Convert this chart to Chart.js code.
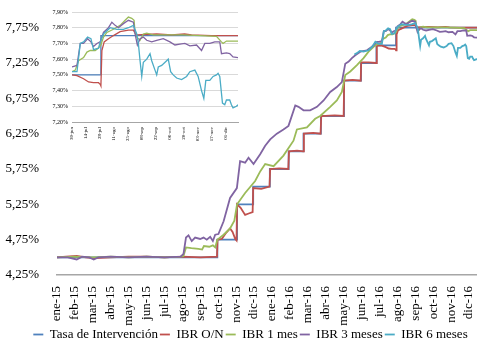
<!DOCTYPE html>
<html>
<head>
<meta charset="utf-8">
<script src="https://cdn.jsdelivr.net/npm/chart.js@4"></script>
<style>
  html, body { margin: 0; padding: 0; background: #fff; }
  #wrap { position: relative; width: 477px; height: 343px; }
  #main, #inset { position: absolute; left: 0; top: 0; }
</style>
</head>
<body>
<div id="wrap">
  <canvas id="main" width="477" height="343"></canvas>
  <canvas id="inset" width="240" height="150"></canvas>
</div>
<script>
'use strict';

// Series names
const seriesNames = ['Tasa de Intervención', 'IBR O/N', 'IBR 1 mes', 'IBR 3 meses', 'IBR 6 meses'];
const seriesColors = ['#4F81BD', '#C0504D', '#9BBB59', '#8064A2', '#4BACC6'];

// Tick labels
const monthLabels = [
    'ene-15', 'feb-15', 'mar-15', 'abr-15', 'may-15', 'jun-15', 'jul-15', 'ago-15',
    'sep-15', 'oct-15', 'nov-15', 'dic-15', 'ene-16', 'feb-16', 'mar-16', 'abr-16',
    'may-16', 'jun-16', 'jul-16', 'ago-16', 'sep-16', 'oct-16', 'nov-16', 'dic-16'
];
const mainYTicks = [4.25, 4.75, 5.25, 5.75, 6.25, 6.75, 7.25, 7.75];
const insetLabels = ['30-jun', '14-jul', '28-jul', '11-ago', '25-ago', '08-sep',
                     '22-sep', '06-oct', '20-oct', '03-nov', '17-nov', '01-dic'];
const insetTickStep = 14;   // days between inset labels
const insetYTicks = [7.2, 7.3, 7.4, 7.5, 7.6, 7.7, 7.8, 7.9];

// Main chart, ene-15 .. 30-jun-16: [month index, %]
const tasaMain = [
    [0, 4.5], [8.95, 4.5], [8.95, 4.75], [10.05, 4.75], [10.05, 5.25], [10.95, 5.25],
    [10.95, 5.5], [11.88, 5.5], [11.88, 5.75], [12.93, 5.75], [12.93, 6.0], [13.76, 6.0],
    [13.76, 6.25], [14.73, 6.25], [14.73, 6.5], [16.02, 6.5], [16.02, 7.0], [16.97, 7.0],
    [16.97, 7.25], [17.83, 7.25], [17.83, 7.5]
];
const onMain = [
    [0, 4.5], [0.5, 4.51], [1.1, 4.52], [1.6, 4.5], [2.1, 4.49], [3, 4.5], [4, 4.51],
    [5, 4.51], [6, 4.5], [7, 4.51], [8, 4.5], [8.93, 4.51], [8.96, 4.75], [9.2, 4.76],
    [9.45, 4.85], [9.66, 4.91], [9.8, 4.86], [9.95, 4.76], [10.02, 4.74], [10.05, 5.25],
    [10.25, 5.2], [10.5, 5.1], [10.7, 5.12], [10.92, 5.14], [10.95, 5.48], [11.4, 5.47],
    [11.86, 5.5], [11.9, 5.75], [12.4, 5.76], [12.91, 5.75], [12.95, 6.0], [13.4, 6.01],
    [13.74, 6.0], [13.78, 6.25], [14.3, 6.26], [14.71, 6.25], [14.75, 6.5], [15.5, 6.51],
    [16.0, 6.5], [16.03, 7.0], [16.5, 7.01], [16.95, 7.0], [16.98, 7.26], [17.4, 7.26],
    [17.81, 7.25], [17.85, 7.49]
];
const m1Main = [
    [0, 4.5], [1, 4.51], [2, 4.5], [3, 4.51], [4, 4.5], [5, 4.51], [6, 4.5], [6.9, 4.51],
    [7.06, 4.52], [7.2, 4.64], [7.5, 4.63], [7.9, 4.62], [8.1, 4.61], [8.2, 4.66],
    [8.5, 4.65], [8.7, 4.67], [8.83, 4.64], [8.95, 4.75], [9.3, 4.82], [9.66, 4.91],
    [9.9, 5.02], [10.05, 5.25], [10.5, 5.41], [11.06, 5.58], [11.35, 5.72], [11.62, 5.82],
    [12.09, 5.79], [12.64, 5.94], [13.2, 6.15], [13.39, 6.31], [13.95, 6.34], [14.41, 6.46],
    [14.69, 6.5], [15.25, 6.63], [15.62, 6.72], [15.9, 6.84], [16.09, 7.08], [16.37, 7.13],
    [16.74, 7.22], [17.11, 7.32], [17.39, 7.41], [17.67, 7.48], [17.9, 7.52]
];
const m3Main = [
    [0, 4.5], [0.6, 4.5], [1.1, 4.47], [1.4, 4.51], [1.8, 4.5], [2.05, 4.47], [2.3, 4.5],
    [3, 4.51], [4, 4.5], [5, 4.51], [6, 4.5], [6.9, 4.51], [7.06, 4.55], [7.2, 4.78],
    [7.34, 4.81], [7.52, 4.73], [7.71, 4.78], [7.99, 4.76], [8.18, 4.78], [8.36, 4.75],
    [8.55, 4.79], [8.7, 4.73], [8.83, 4.82], [9.01, 4.83], [9.3, 5.01], [9.66, 5.34],
    [10.04, 5.48], [10.22, 5.86], [10.5, 5.84], [10.69, 5.91], [10.97, 5.82], [11.34, 5.96],
    [11.62, 6.08], [11.9, 6.17], [12.27, 6.25], [12.64, 6.31], [12.92, 6.36], [13.3, 6.65],
    [13.48, 6.63], [13.76, 6.58], [14.13, 6.58], [14.51, 6.63], [14.88, 6.72], [15.25, 6.84],
    [15.62, 6.91], [15.9, 6.98], [16.09, 7.24], [16.28, 7.27], [16.46, 7.32], [16.65, 7.36],
    [16.93, 7.41], [17.3, 7.43], [17.58, 7.48], [17.86, 7.55]
];
const m6Main = [
    [16.6, 7.37], [16.74, 7.39], [16.9, 7.42], [17.11, 7.41], [17.39, 7.43], [17.6, 7.48],
    [17.77, 7.55], [17.9, 7.53]
];

// Inset, 30-jun-16 .. dic-16: [days since 30-jun, %]
const tasaInset = [[0, 7.5], [29, 7.5], [29, 7.75], [166.6, 7.75]];
const onInset = [
    [0, 7.5], [5, 7.495], [11.6, 7.475], [16.6, 7.455], [21.6, 7.45], [26.6, 7.45],
    [28.3, 7.44], [29, 7.43], [30, 7.655], [32.3, 7.71], [36.6, 7.73], [41.6, 7.75],
    [48.3, 7.775], [56.6, 7.785], [61.6, 7.785], [63.3, 7.765], [65, 7.755], [85, 7.76],
    [100, 7.755], [113, 7.76], [120, 7.755], [140, 7.75], [166.6, 7.75]
];
const m1Inset = [
    [0, 7.52], [3.3, 7.53], [6.6, 7.59], [11.6, 7.61], [15, 7.645], [18.3, 7.655],
    [23.3, 7.655], [26.6, 7.67], [29, 7.69], [31.6, 7.74], [35, 7.77], [41.6, 7.79],
    [48.3, 7.815], [53.3, 7.847], [56.6, 7.868], [60, 7.86], [62.3, 7.847], [63.3, 7.77],
    [65, 7.74], [68.3, 7.72], [71.6, 7.76], [75, 7.765], [81.6, 7.755], [95, 7.755],
    [111.6, 7.755], [128.3, 7.75], [145, 7.745], [150, 7.71], [151.6, 7.7], [155, 7.715],
    [161.6, 7.715], [166.6, 7.715]
];
const m3Inset = [
    [0, 7.55], [5, 7.56], [8.3, 7.7], [11.6, 7.7], [15.6, 7.73], [19, 7.71], [21.6, 7.68],
    [25, 7.7], [28.3, 7.71], [31.6, 7.77], [36.6, 7.8], [40, 7.835], [43.3, 7.815],
    [46.6, 7.8], [51.6, 7.826], [56.6, 7.847], [61.6, 7.835], [63.3, 7.76], [65.6, 7.69],
    [68.3, 7.73], [71.6, 7.74], [75, 7.72], [80, 7.71], [85, 7.72], [91.6, 7.73],
    [98.3, 7.71], [103.3, 7.69], [108.3, 7.695], [113.3, 7.7], [118.3, 7.685], [125, 7.69],
    [130, 7.655], [133.3, 7.7], [138.3, 7.7], [143.3, 7.71], [148.3, 7.71], [150, 7.635],
    [155, 7.64], [158.3, 7.635], [161.6, 7.614], [166.6, 7.61]
];
const m6Inset = [
    [0, 7.52], [5, 7.52], [8.3, 7.7], [11.6, 7.71], [15.6, 7.74], [19, 7.73], [21.6, 7.66],
    [26.6, 7.67], [28.3, 7.71], [31.6, 7.76], [38.3, 7.8], [45, 7.79], [51.6, 7.79],
    [56.6, 7.8], [61.6, 7.815], [65, 7.76], [66.6, 7.7], [68.3, 7.59], [70, 7.49],
    [71.6, 7.58], [75, 7.6], [78.3, 7.635], [80, 7.59], [83.3, 7.53], [85, 7.5], [86.6, 7.55],
    [90, 7.56], [95, 7.59], [96.6, 7.6], [99, 7.52], [101.6, 7.5], [105, 7.48], [110, 7.47],
    [115, 7.49], [118.3, 7.52], [123.3, 7.53], [126.6, 7.49], [130, 7.4], [132.3, 7.35],
    [134.3, 7.465], [138.3, 7.465], [141.6, 7.49], [145, 7.5], [146.6, 7.51], [148.3, 7.49],
    [151, 7.32], [153.3, 7.31], [155, 7.34], [158.3, 7.34], [160, 7.31], [161.6, 7.29],
    [165, 7.3], [166.6, 7.31]
];

const mainSeries = [tasaMain, onMain, m1Main, m3Main, m6Main];
const insetSeries = [tasaInset, onInset, m1Inset, m3Inset, m6Inset];

// 30-jun-16 on the month axis
const insetStartMonth = 17.97;
const daysPerMonth = 30.44;
const insetDays = 166.6;

Chart.defaults.font.family = "'Liberation Serif', 'Times New Roman', serif";
Chart.defaults.color = '#000';
Chart.defaults.animation = false;

const pct = (v) => v.toFixed(2).replace('.', ',') + '%';

// Nudge the legend a little to the right, like the original
const legendShift = {
    id: 'legendShift',
    afterLayout(chart) {
        chart.legend.left += 12;
        chart.legend.right += 12;
    }
};

// Build main chart
let mainData = seriesNames.map((name, i) => ({
    label: name,
    data: mainSeries[i].map(p => ({x: p[0], y: p[1]}))
        .concat(insetSeries[i].map(p => ({x: insetStartMonth + p[0] / daysPerMonth, y: p[1]}))),
    borderColor: seriesColors[i],
    backgroundColor: seriesColors[i],
    borderWidth: 1.8,
    pointRadius: 0,
    tension: 0,
    order: seriesNames.length - i
}));

new Chart(document.getElementById('main').getContext('2d'), {
    type: 'line',
    data: { datasets: mainData },
    plugins: [legendShift],
    options: {
        responsive: false,
        layout: { padding: { top: 10, right: 0, left: 0, bottom: -8 } },
        plugins: {
            tooltip: { enabled: false },
            legend: {
                position: 'bottom',
                labels: {
                    usePointStyle: true,
                    pointStyle: 'line',
                    pointStyleWidth: 10,
                    padding: 2,
                    font: { size: 13 },
                    sort: (a, b) => a.datasetIndex - b.datasetIndex
                }
            }
        },
        scales: {
            x: {
                type: 'linear',
                min: 0,
                max: insetStartMonth + insetDays / daysPerMonth,
                grid: { display: false },
                border: { display: true, color: '#a6a6a6', width: 1.5 },
                afterBuildTicks: (scale) => {
                    scale.ticks = monthLabels.map((l, i) => ({ value: i }));
                },
                afterFit: (scale) => {
                    scale.height = 51;
                    scale.paddingLeft = 0;
                    scale.paddingRight = 0;
                },
                ticks: {
                    autoSkip: false,
                    minRotation: 90,
                    maxRotation: 90,
                    padding: 3,
                    font: { size: 13 },
                    callback: (v) => monthLabels[Math.round(v)]
                }
            },
            y: {
                min: 4.25,
                max: 8.0,
                grid: { display: false },
                border: { display: false },
                afterBuildTicks: (scale) => {
                    scale.ticks = mainYTicks.map(v => ({ value: v }));
                },
                afterFit: (scale) => {
                    scale.width = 57;
                    scale.paddingTop = 0;
                    scale.paddingBottom = 0;
                },
                ticks: {
                    padding: 10,
                    font: { size: 13 },
                    callback: (v) => pct(v)
                }
            }
        }
    }
});

// Build inset chart
let insetData = seriesNames.map((name, i) => ({
    label: name,
    data: insetSeries[i].map(p => ({x: p[0], y: p[1]})),
    borderColor: seriesColors[i],
    borderWidth: 1.3,
    pointRadius: 0,
    tension: 0,
    order: seriesNames.length - i
}));

new Chart(document.getElementById('inset').getContext('2d'), {
    type: 'line',
    data: { datasets: insetData },
    options: {
        responsive: false,
        layout: { padding: { top: 12, right: 2, left: 0, bottom: 0 } },
        plugins: {
            tooltip: { enabled: false },
            legend: { display: false }
        },
        scales: {
            x: {
                type: 'linear',
                min: 0,
                max: insetDays,
                grid: { display: false },
                border: { display: true, color: '#a6a6a6', width: 1 },
                afterBuildTicks: (scale) => {
                    scale.ticks = insetLabels.map((l, i) => ({ value: i * insetTickStep }));
                },
                afterFit: (scale) => { scale.height = 28; },
                ticks: {
                    autoSkip: false,
                    minRotation: 90,
                    maxRotation: 90,
                    padding: -3,
                    font: { size: 5 },
                    callback: (v) => insetLabels[Math.round(v / insetTickStep)]
                }
            },
            y: {
                min: 7.2,
                max: 7.9,
                grid: { color: '#d9d9d9', lineWidth: 1, drawTicks: false },
                border: { display: false },
                afterBuildTicks: (scale) => {
                    scale.ticks = insetYTicks.map(v => ({ value: v }));
                },
                afterFit: (scale) => { scale.width = 72; },
                ticks: {
                    padding: 4,
                    font: { size: 6 },
                    callback: (v) => pct(v)
                }
            }
        }
    }
});
</script>
</body>
</html>
